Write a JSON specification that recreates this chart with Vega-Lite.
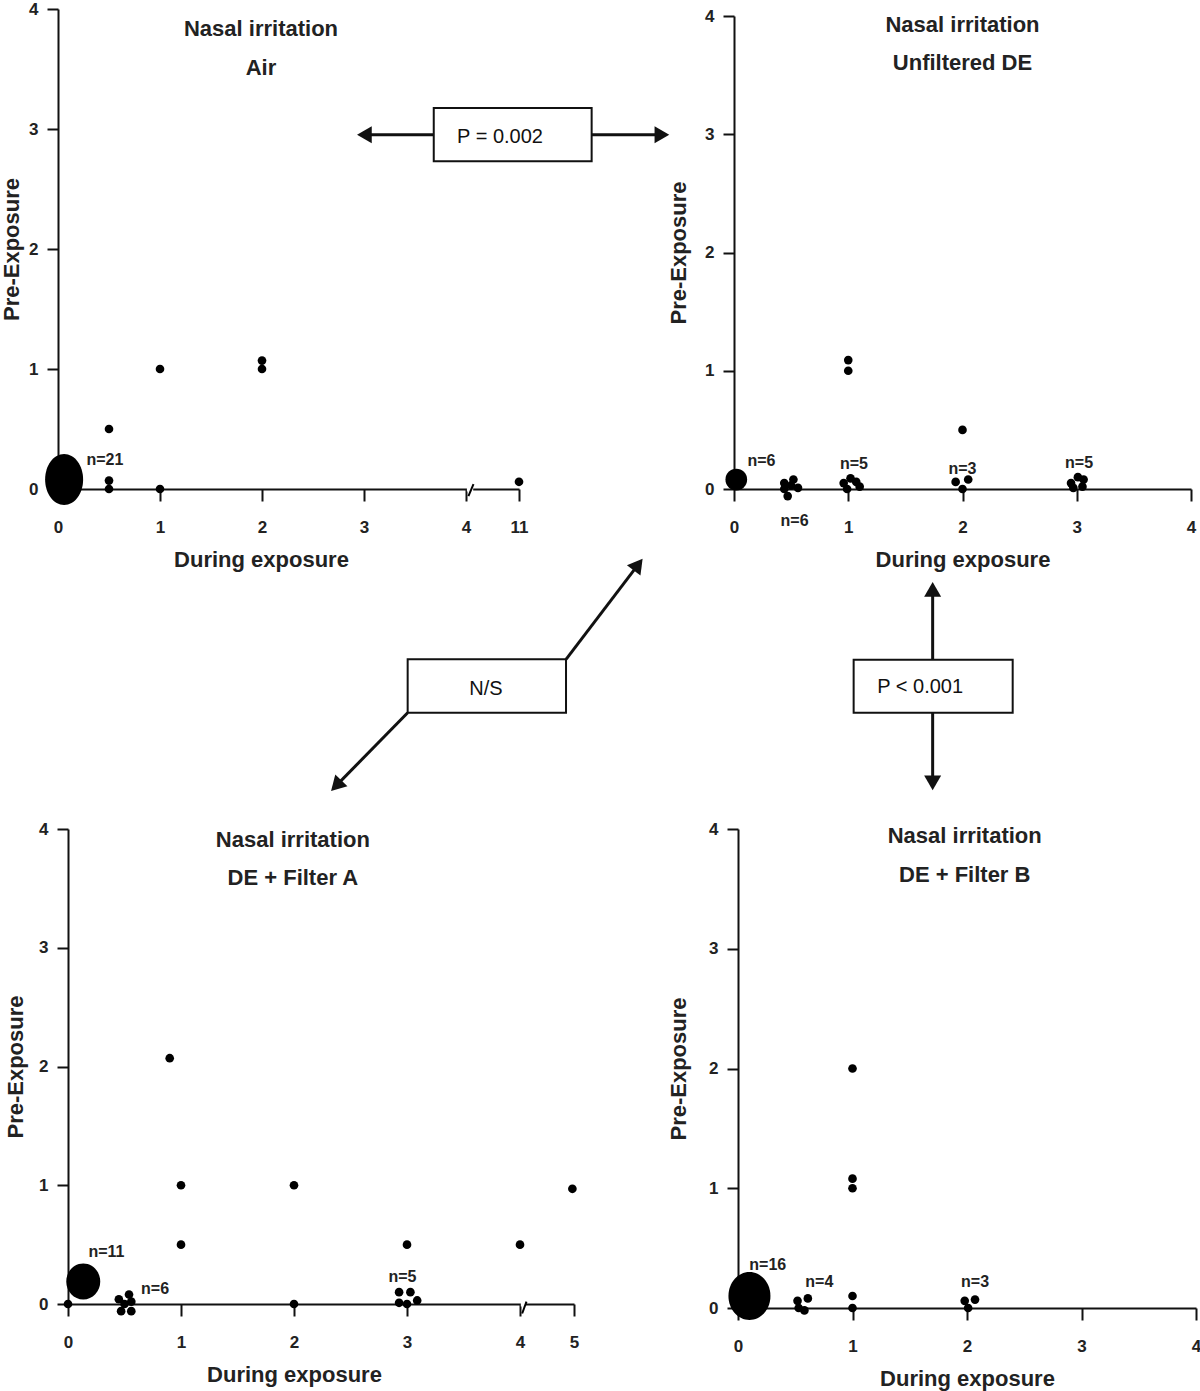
{
  "$schema": "https://vega.github.io/schema/vega-lite/v6.json",
  "background": "white",
  "padding": {"left": 0, "top": 0, "right": 5, "bottom": 5},
  "columns": 2,
  "spacing": {"row": 340, "column": 160},
  "bounds": "flush",
  "datasets": {
    "tl_pts": [{"x":0.5,"y":0.5},{"x":0.5,"y":0.07},{"x":0.5,"y":0},{"x":1,"y":1},{"x":1,"y":0},{"x":2,"y":1.07},{"x":2,"y":1},{"x":11,"y":0.06}],
    "tl_pool": [{"x":0.06,"y":0.08,"n":21}],
    "tl_lab": [{"x":0.46,"y":0.24,"text":"n=21"}],
    "tl_title": [{"x":1.99,"y":3.83,"text":"Nasal irritation"},{"x":1.99,"y":3.51,"text":"Air"}],
    "tl_gap": [{"x":4.12,"y":0,"x2":4.95,"y2":0}],
    "tl_slash": [{"x":4.32,"y":-0.06,"x2":4.99,"y2":0.04}],
    "tr_pts": [{"x":0.44,"y":0.05},{"x":0.52,"y":0.08},{"x":0.56,"y":0.01},{"x":0.47,"y":-0.06},{"x":0.44,"y":0.0},{"x":0.5,"y":0.03},
               {"x":1,"y":1.09},{"x":1,"y":1.0},{"x":0.96,"y":0.05},{"x":1.02,"y":0.09},{"x":1.07,"y":0.06},{"x":1.1,"y":0.02},{"x":0.99,"y":0.0},
               {"x":2,"y":0.5},{"x":1.94,"y":0.06},{"x":2.05,"y":0.08},{"x":2.0,"y":0.0},
               {"x":2.95,"y":0.05},{"x":3.01,"y":0.1},{"x":3.06,"y":0.08},{"x":3.05,"y":0.02},{"x":2.97,"y":0.01}],
    "tr_pool": [{"x":0.02,"y":0.08,"n":6}],
    "tr_lab": [{"x":0.24,"y":0.24,"text":"n=6"},{"x":0.53,"y":-0.27,"text":"n=6"},{"x":1.05,"y":0.21,"text":"n=5"},{"x":2.0,"y":0.17,"text":"n=3"},{"x":3.02,"y":0.22,"text":"n=5"}],
    "tr_title": [{"x":2.0,"y":3.92,"text":"Nasal irritation"},{"x":2.0,"y":3.6,"text":"Unfiltered DE"}],
    "tr_box": [{"x":-2.628,"x2":-1.246,"y":2.771,"y2":3.222}],
    "tr_arrows": [{"x":-2.628,"y":2.996,"x2":-3.235,"y2":2.996},{"x":-1.246,"y":2.996,"x2":-0.631,"y2":2.996}],
    "tr_head_l": [{"x":-3.235,"y":2.996}],
    "tr_head_r": [{"x":-0.631,"y":2.996}],
    "tr_ptext": [{"x":-2.048,"y":2.98,"text":"P = 0.002"}],
    "bl_pts": [{"x":0,"y":0},{"x":0.45,"y":0.04},{"x":0.54,"y":0.08},{"x":0.56,"y":0.02},{"x":0.47,"y":-0.06},{"x":0.56,"y":-0.06},{"x":0.5,"y":0.0},
               {"x":0.9,"y":2.07},{"x":1,"y":1},{"x":1,"y":0.5},{"x":2,"y":1},{"x":2,"y":0},{"x":3,"y":0.5},
               {"x":2.93,"y":0.1},{"x":3.03,"y":0.1},{"x":3.09,"y":0.03},{"x":2.93,"y":0.01},{"x":3.0,"y":0.0},{"x":4,"y":0.5},{"x":4.97,"y":0.97}],
    "bl_pool": [{"x":0.135,"y":0.19,"n":11}],
    "bl_lab": [{"x":0.34,"y":0.44,"text":"n=11"},{"x":0.77,"y":0.13,"text":"n=6"},{"x":2.96,"y":0.23,"text":"n=5"}],
    "bl_title": [{"x":1.99,"y":3.91,"text":"Nasal irritation"},{"x":1.99,"y":3.59,"text":"DE + Filter A"}],
    "bl_gap": [{"x":4.015,"y":0,"x2":4.1,"y2":0}],
    "bl_slash": [{"x":4.04,"y":-0.08,"x2":4.12,"y2":0.02}],
    "br_pts": [{"x":0.52,"y":0.06},{"x":0.61,"y":0.08},{"x":0.53,"y":0.0},{"x":0.58,"y":-0.02},
               {"x":1,"y":2},{"x":1,"y":1.08},{"x":1,"y":1.0},{"x":1,"y":0.1},{"x":1,"y":0},
               {"x":1.98,"y":0.06},{"x":2.07,"y":0.07},{"x":2.01,"y":0.0}],
    "br_pool": [{"x":0.1,"y":0.1,"n":16}],
    "br_lab": [{"x":0.26,"y":0.36,"text":"n=16"},{"x":0.71,"y":0.22,"text":"n=4"},{"x":2.07,"y":0.22,"text":"n=3"}],
    "br_title": [{"x":1.98,"y":3.94,"text":"Nasal irritation"},{"x":1.98,"y":3.62,"text":"DE + Filter B"}],
    "br_boxes": [{"x":-2.885,"x2":-1.502,"y":4.971,"y2":5.417},{"x":1.01,"x2":2.399,"y":4.971,"y2":5.414}],
    "br_arrows": [{"x":-1.502,"y":5.417,"x2":-0.872,"y2":6.208},{"x":-2.885,"y":4.971,"x2":-3.509,"y2":4.362},{"x":1.7,"y":5.414,"x2":1.7,"y2":6.001},{"x":1.7,"y":4.971,"x2":1.7,"y2":4.385}],
    "br_head_ur": [{"x":-0.872,"y":6.208}],
    "br_head_dl": [{"x":-3.509,"y":4.362}],
    "br_head_up": [{"x":1.7,"y":6.001}],
    "br_head_dn": [{"x":1.7,"y":4.385}],
    "br_ptext": [{"x":-2.201,"y":5.172,"text":"N/S"},{"x":1.591,"y":5.186,"text":"P < 0.001"}]
  },
  "concat": [
    {
      "width": 462, "height": 480,
      "encoding": {
        "x": {"field":"x","type":"quantitative","scale":{"domain":[0,4,11],"range":[0,408,461],"nice":false,"zero":false},"axis":{"values":[0,1,2,3,4,11],"title":"During exposure","titleX":203}},
        "y": {"field":"y","type":"quantitative","scale":{"domain":[0,4],"nice":false,"zero":false},"axis":{"values":[0,1,2,3,4],"title":"Pre-Exposure","titlePadding":5}}
      },
      "layer": [
        {"data":{"name":"tl_title"},"mark":{"type":"text","fontSize":22,"fontWeight":"bold","color":"#222"},"encoding":{"text":{"field":"text"}}},
        {"data":{"name":"tl_gap"},"mark":{"type":"rule","color":"white","strokeWidth":5},"encoding":{"x2":{"field":"x2"},"y2":{"field":"y2"}}},
        {"data":{"name":"tl_slash"},"mark":{"type":"rule","color":"black","strokeWidth":2},"encoding":{"x2":{"field":"x2"},"y2":{"field":"y2"}}},
        {"data":{"name":"tl_pts"},"mark":{"type":"point","filled":true,"color":"black","opacity":1,"size":75}},
        {"data":{"name":"tl_pool"},"mark":{"type":"point","filled":true,"color":"black","opacity":1,"size":2601,"shape":"M0.745,0C0.745,0.552,0.412,1,0,1C-0.412,1,-0.745,0.552,-0.745,0C-0.745,-0.552,-0.412,-1,0,-1C0.412,-1,0.745,-0.552,0.745,0Z"}},
        {"data":{"name":"tl_lab"},"mark":{"type":"text","fontSize":16,"fontWeight":"bold","color":"#222"},"encoding":{"text":{"field":"text"}}}
      ]
    },
    {
      "width": 457, "height": 480,
      "encoding": {
        "x": {"field":"x","type":"quantitative","scale":{"domain":[0,4],"nice":false,"zero":false},"axis":{"values":[0,1,2,3,4],"title":"During exposure"}},
        "y": {"field":"y","type":"quantitative","scale":{"domain":[0,4],"range":[480,7],"nice":false,"zero":false},"axis":{"values":[0,1,2,3,4],"title":"Pre-Exposure","titlePadding":14}}
      },
      "layer": [
        {"data":{"name":"tr_title"},"mark":{"type":"text","fontSize":22,"fontWeight":"bold","color":"#222"},"encoding":{"text":{"field":"text"}}},
        {"data":{"name":"tr_pts"},"mark":{"type":"point","filled":true,"color":"black","opacity":1,"size":75}},
        {"data":{"name":"tr_pool"},"mark":{"type":"point","filled":true,"color":"black","opacity":1,"size":471,"shape":"circle"}},
        {"data":{"name":"tr_lab"},"mark":{"type":"text","fontSize":16,"fontWeight":"bold","color":"#222"},"encoding":{"text":{"field":"text"}}},
        {"data":{"name":"tr_arrows"},"mark":{"type":"rule","color":"#111","strokeWidth":3},"encoding":{"x2":{"field":"x2"},"y2":{"field":"y2"}}},
        {"data":{"name":"tr_head_l"},"mark":{"type":"point","shape":"triangle-left","filled":true,"color":"#111","opacity":1,"size":289}},
        {"data":{"name":"tr_head_r"},"mark":{"type":"point","shape":"triangle-right","filled":true,"color":"#111","opacity":1,"size":289}},
        {"data":{"name":"tr_box"},"mark":{"type":"rect","fill":"white","stroke":"#111","strokeWidth":2},"encoding":{"x2":{"field":"x2"},"y2":{"field":"y2"}}},
        {"data":{"name":"tr_ptext"},"mark":{"type":"text","fontSize":20,"color":"#111"},"encoding":{"text":{"field":"text"}}}
      ]
    },
    {
      "width": 516, "height": 475,
      "encoding": {
        "x": {"field":"x","type":"quantitative","scale":{"domain":[0,4,5],"range":[10,462,516],"nice":false,"zero":false},"axis":{"values":[0,1,2,3,4,5],"title":"During exposure","titleX":236}},
        "y": {"field":"y","type":"quantitative","scale":{"domain":[0,4],"nice":false,"zero":false},"axis":{"values":[0,1,2,3,4],"title":"Pre-Exposure","titlePadding":11,"offset":-10}}
      },
      "layer": [
        {"data":{"name":"bl_title"},"mark":{"type":"text","fontSize":22,"fontWeight":"bold","color":"#222"},"encoding":{"text":{"field":"text"}}},
        {"data":{"name":"bl_gap"},"mark":{"type":"rule","color":"white","strokeWidth":5},"encoding":{"x2":{"field":"x2"},"y2":{"field":"y2"}}},
        {"data":{"name":"bl_slash"},"mark":{"type":"rule","color":"black","strokeWidth":2},"encoding":{"x2":{"field":"x2"},"y2":{"field":"y2"}}},
        {"data":{"name":"bl_pts"},"mark":{"type":"point","filled":true,"color":"black","opacity":1,"size":75}},
        {"data":{"name":"bl_pool"},"mark":{"type":"point","filled":true,"color":"black","opacity":1,"size":1296,"shape":"M0.944,0C0.944,0.552,0.521,1,0,1C-0.521,1,-0.944,0.552,-0.944,0C-0.944,-0.552,-0.521,-1,0,-1C0.521,-1,0.944,-0.552,0.944,0Z"}},
        {"data":{"name":"bl_lab"},"mark":{"type":"text","fontSize":16,"fontWeight":"bold","color":"#222"},"encoding":{"text":{"field":"text"}}}
      ]
    },
    {
      "width": 462, "height": 479,
      "encoding": {
        "x": {"field":"x","type":"quantitative","scale":{"domain":[0,4],"range":[4,462],"nice":false,"zero":false},"axis":{"values":[0,1,2,3,4],"title":"During exposure"}},
        "y": {"field":"y","type":"quantitative","scale":{"domain":[0,4],"nice":false,"zero":false},"axis":{"values":[0,1,2,3,4],"title":"Pre-Exposure","titlePadding":18,"offset":-4}}
      },
      "layer": [
        {"data":{"name":"br_title"},"mark":{"type":"text","fontSize":22,"fontWeight":"bold","color":"#222"},"encoding":{"text":{"field":"text"}}},
        {"data":{"name":"br_pts"},"mark":{"type":"point","filled":true,"color":"black","opacity":1,"size":75}},
        {"data":{"name":"br_pool"},"mark":{"type":"point","filled":true,"color":"black","opacity":1,"size":2304,"shape":"M0.875,0C0.875,0.552,0.483,1,0,1C-0.483,1,-0.875,0.552,-0.875,0C-0.875,-0.552,-0.483,-1,0,-1C0.483,-1,0.875,-0.552,0.875,0Z"}},
        {"data":{"name":"br_lab"},"mark":{"type":"text","fontSize":16,"fontWeight":"bold","color":"#222"},"encoding":{"text":{"field":"text"}}},
        {"data":{"name":"br_arrows"},"mark":{"type":"rule","color":"#111","strokeWidth":3},"encoding":{"x2":{"field":"x2"},"y2":{"field":"y2"}}},
        {"data":{"name":"br_head_ur"},"mark":{"type":"point","shape":"triangle-up","angle":37.3,"filled":true,"color":"#111","opacity":1,"size":289}},
        {"data":{"name":"br_head_dl"},"mark":{"type":"point","shape":"triangle-up","angle":224.4,"filled":true,"color":"#111","opacity":1,"size":289}},
        {"data":{"name":"br_head_up"},"mark":{"type":"point","shape":"triangle-up","filled":true,"color":"#111","opacity":1,"size":289}},
        {"data":{"name":"br_head_dn"},"mark":{"type":"point","shape":"triangle-down","filled":true,"color":"#111","opacity":1,"size":289}},
        {"data":{"name":"br_boxes"},"mark":{"type":"rect","fill":"white","stroke":"#111","strokeWidth":2},"encoding":{"x2":{"field":"x2"},"y2":{"field":"y2"}}},
        {"data":{"name":"br_ptext"},"mark":{"type":"text","fontSize":20,"color":"#111"},"encoding":{"text":{"field":"text"}}}
      ]
    }
  ],
  "config": {
    "view": {"stroke": null},
    "font": "Liberation Sans",
    "axis": {"grid": false, "domainColor": "#111", "domainWidth": 2, "tickColor": "#111", "tickWidth": 2,
             "labelFont": "Liberation Sans", "labelFontWeight": "bold", "labelFontSize": 17, "labelColor": "#222",
             "labelFlush": false, "labelOverlap": false,
             "titleFont": "Liberation Sans", "titleFontWeight": "bold", "titleFontSize": 22, "titleColor": "#222"},
    "axisX": {"tickSize": 12, "labelPadding": 18, "titlePadding": 14},
    "axisY": {"tickSize": 11, "labelPadding": 9}
  }
}
